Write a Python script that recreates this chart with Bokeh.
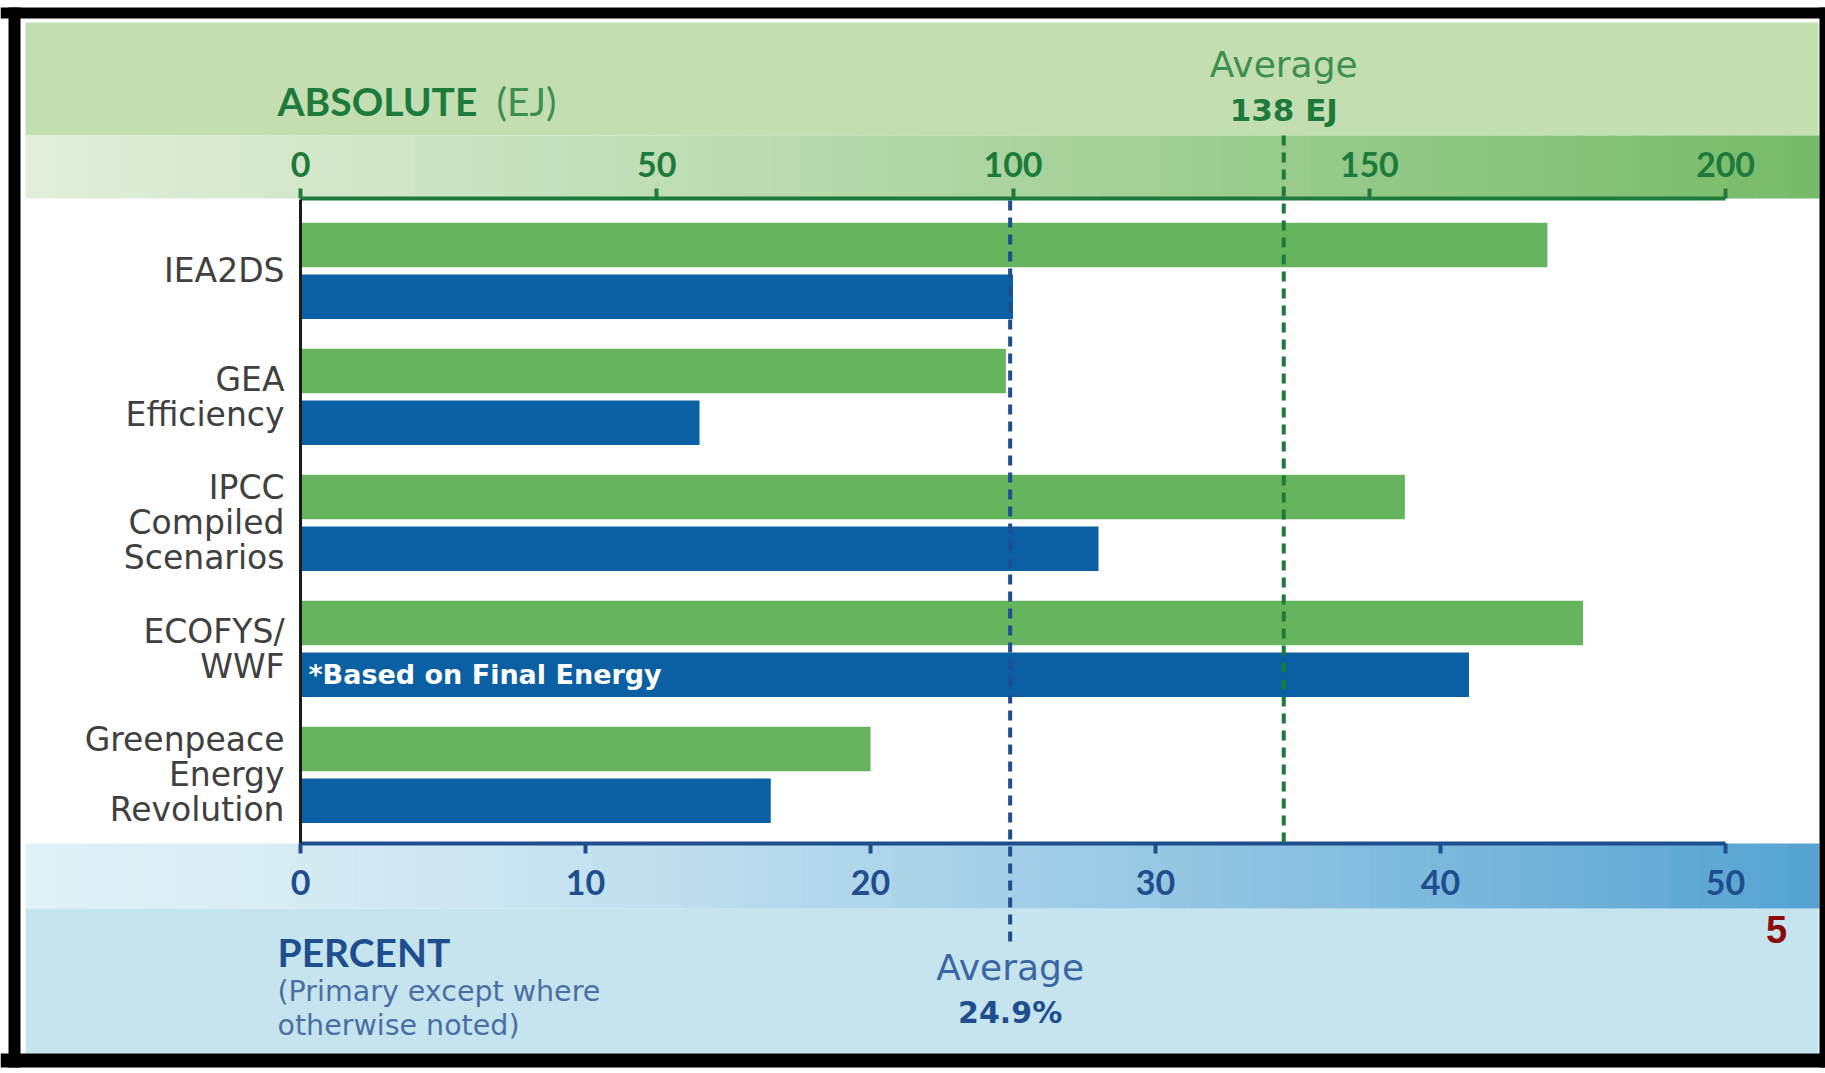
from bokeh.plotting import figure
from bokeh.models import Range1d, LinearAxis, FixedTicker, BoxAnnotation, Label, Arrow
from bokeh.embed import file_html
from bokeh.resources import INLINE
from bokeh.core.properties import value

# ---------------- data ----------------
scenarios = ["IEA2DS", "GEA\nEfficiency", "IPCC\nCompiled\nScenarios",
             "ECOFYS/\nWWF", "Greenpeace\nEnergy\nRevolution"]
absolute_ej = [175, 99, 155, 180, 80]
percent_share = [25.0, 14.0, 28.0, 41.0, 16.5]
ej_ticks = [0, 50, 100, 150, 200]
pct_ticks = [0, 10, 20, 30, 40, 50]
average_ej = 138
average_pct = 24.9
note_text = "*Based on Final Energy"
note_scenario = "ECOFYS/\nWWF"

# ---------------- layout (canvas pixels) ----------------
W, H = 1825, 1073
X0 = 300.0            # canvas x of value 0
PX_PER_EJ = 7.125     # 200 EJ -> 1425 px
EJ_MAX, PCT_MAX = 200, 50
ROW_PX = 126.0
Y_FIRST = 270.3       # canvas y of first scenario centre
AX_TOP, AX_BOT = 198, 843
BAR_OFF = 25.9 / ROW_PX
BAR_H = 44.5 / ROW_PX

n = len(scenarios)
ypos = [n - 1 - i for i in range(n)]
pct_to_ej = EJ_MAX / PCT_MAX


def cx(px):
    return (px - X0) / PX_PER_EJ


def cy(py):
    return (n - 1) - (py - Y_FIRST) / ROW_PX


GREEN_BAR = "#66B45E"
BLUE_BAR = "#0B5FA3"
GREEN_TXT = "#1D7A3C"
BLUE_TXT = "#1F4E8F"

p = figure(width=W, height=H, x_range=Range1d(cx(0), cx(W)), y_range=Range1d(cy(H), cy(0)),
           x_axis_location=None, y_axis_location=None, output_backend="svg",
           toolbar_location=None, min_border=0)
p.extra_x_ranges = {"pct": Range1d(cx(0) / pct_to_ej, cx(W) / pct_to_ej)}
p.outline_line_color = None
p.background_fill_color = "white"
p.border_fill_color = "white"
p.xgrid.visible = False
p.ygrid.visible = False


def mix(c1, c2, t):
    return "#%02x%02x%02x" % tuple(int(round(a + (b - a) * t)) for a, b in zip(c1, c2))


def box(l, r, t, b, color, level="underlay"):
    p.add_layout(BoxAnnotation(left=cx(l), right=cx(r), top=cy(t), bottom=cy(b),
                               fill_color=color, fill_alpha=1, line_color=None, level=level))


# ---------------- decorative background bands ----------------
IN_L, IN_R, IN_T, IN_B = 25, 1818, 22, 1053
box(IN_L, IN_R, IN_T, 135, "#C3DEB0")
box(IN_L, IN_R, 908, IN_B, "#C5E4EE")
NSTRIP = 60
sw = (IN_R - IN_L) / NSTRIP
for i in range(NSTRIP):
    t = (i + 0.5) / NSTRIP
    l, r = IN_L + i * sw, IN_L + (i + 1) * sw + 1
    box(l, r, 135, AX_TOP, mix((226, 238, 218), (118, 187, 104), t ** 1.1))
    box(l, r, AX_BOT, 908, mix((224, 241, 247), (84, 162, 210), t ** 1.4))

# ---------------- axes ----------------
top = LinearAxis(ticker=FixedTicker(ticks=ej_ticks), bounds=(0, EJ_MAX), fixed_location=cy(AX_TOP))
bottom = LinearAxis(x_range_name="pct", ticker=FixedTicker(ticks=pct_ticks), bounds=(0, PCT_MAX),
                    fixed_location=cy(AX_BOT))
p.add_layout(top, "above")
p.add_layout(bottom, "below")
for ax, col, st in ((top, GREEN_TXT, 12), (bottom, BLUE_TXT, 16)):
    ax.axis_line_color = col
    ax.axis_line_width = 4
    ax.major_tick_line_color = col
    ax.major_tick_line_width = 4
    ax.major_tick_out = 10
    ax.major_tick_in = 0
    ax.minor_tick_line_color = None
    ax.major_label_standoff = st
    ax.major_label_text_font = "Lato"
    ax.major_label_text_font_style = "bold"
    ax.major_label_text_font_size = "34px"
    ax.major_label_text_color = col

left = LinearAxis(ticker=FixedTicker(ticks=ypos), fixed_location=0,
                  bounds=(cy(AX_BOT), cy(AX_TOP + 1)))
p.add_layout(left, "left")
left.major_label_overrides = {y: s for y, s in zip(ypos, scenarios)}
left.axis_line_color = "#1a1a1a"
left.axis_line_width = 3
left.major_tick_line_color = None
left.minor_tick_line_color = None
left.major_label_standoff = 10
left.major_label_text_font = "DejaVu Sans"
left.major_label_text_font_size = "33px"
left.major_label_text_color = "#404040"
left.major_label_text_line_height = 0.9

# ---------------- bars ----------------
p.hbar(y=[y + BAR_OFF for y in ypos], left=0, right=absolute_ej, height=BAR_H,
       fill_color=GREEN_BAR, line_color=None)
p.hbar(y=[y - BAR_OFF for y in ypos], left=0, right=percent_share, height=BAR_H,
       fill_color=BLUE_BAR, line_color=None, x_range_name="pct")

ni = scenarios.index(note_scenario)
p.text(x=[0], y=[ypos[ni] - BAR_OFF], text=[note_text], x_offset=8,
       text_baseline="middle", text_align="left", text_color="white",
       text_font=value("DejaVu Sans"), text_font_style="bold", text_font_size="27px")

# ---------------- average lines ----------------
p.add_layout(Arrow(end=None, x_start=average_ej, y_start=cy(135), x_end=average_ej, y_end=cy(AX_BOT),
                   line_color=GREEN_TXT, line_width=4, line_dash="10 7"))
avg_pct_x = average_pct * pct_to_ej
p.add_layout(Arrow(end=None, x_start=avg_pct_x, y_start=cy(AX_TOP + 2), x_end=avg_pct_x, y_end=cy(943),
                   line_color=BLUE_TXT, line_width=4, line_dash="10 7"))


# ---------------- texts ----------------
def lab(x, base_px, text, fs, color, font="DejaVu Sans", style="normal", align="left"):
    p.add_layout(Label(x=x, y=cy(base_px - 0.41 * fs), text=text, text_font=font,
                       text_font_size="%gpx" % fs, text_font_style=style, text_color=color,
                       text_align=align, text_baseline="alphabetic"))


lab(cx(277), 116, "ABSOLUTE", 39, GREEN_TXT, font="Lato", style="bold")
lab(cx(496), 116, "(EJ)", 39, "#3E8E52", font="Lato")
lab(average_ej, 79, "Average", 36, "#3D8F50", align="center")
lab(average_ej, 122, "%g EJ" % average_ej, 31, GREEN_TXT, style="bold", align="center")
lab(cx(277), 967, "PERCENT", 39, BLUE_TXT, font="Lato", style="bold")
lab(cx(277), 1003, "(Primary except where", 28.5, "#4A6FA5")
lab(cx(277), 1037, "otherwise noted)", 28.5, "#4A6FA5")
lab(avg_pct_x, 982, "Average", 36, "#3A67A3", align="center")
lab(avg_pct_x, 1024, "%.1f%%" % average_pct, 30, BLUE_TXT, style="bold", align="center")
lab(cx(1776), 945, "5", 38, "#8B0A0A", font="Liberation Sans", style="bold", align="center")

# ---------------- black frame ----------------
for (l, r, t, b) in ((0, W, 7, 18), (0, W, 1053, 1067), (8, 20, 7, 1067), (1819, W, 7, 1067)):
    box(l, r, t, b, "black", level="overlay")

open("out.html", "w").write(file_html(p, INLINE))
